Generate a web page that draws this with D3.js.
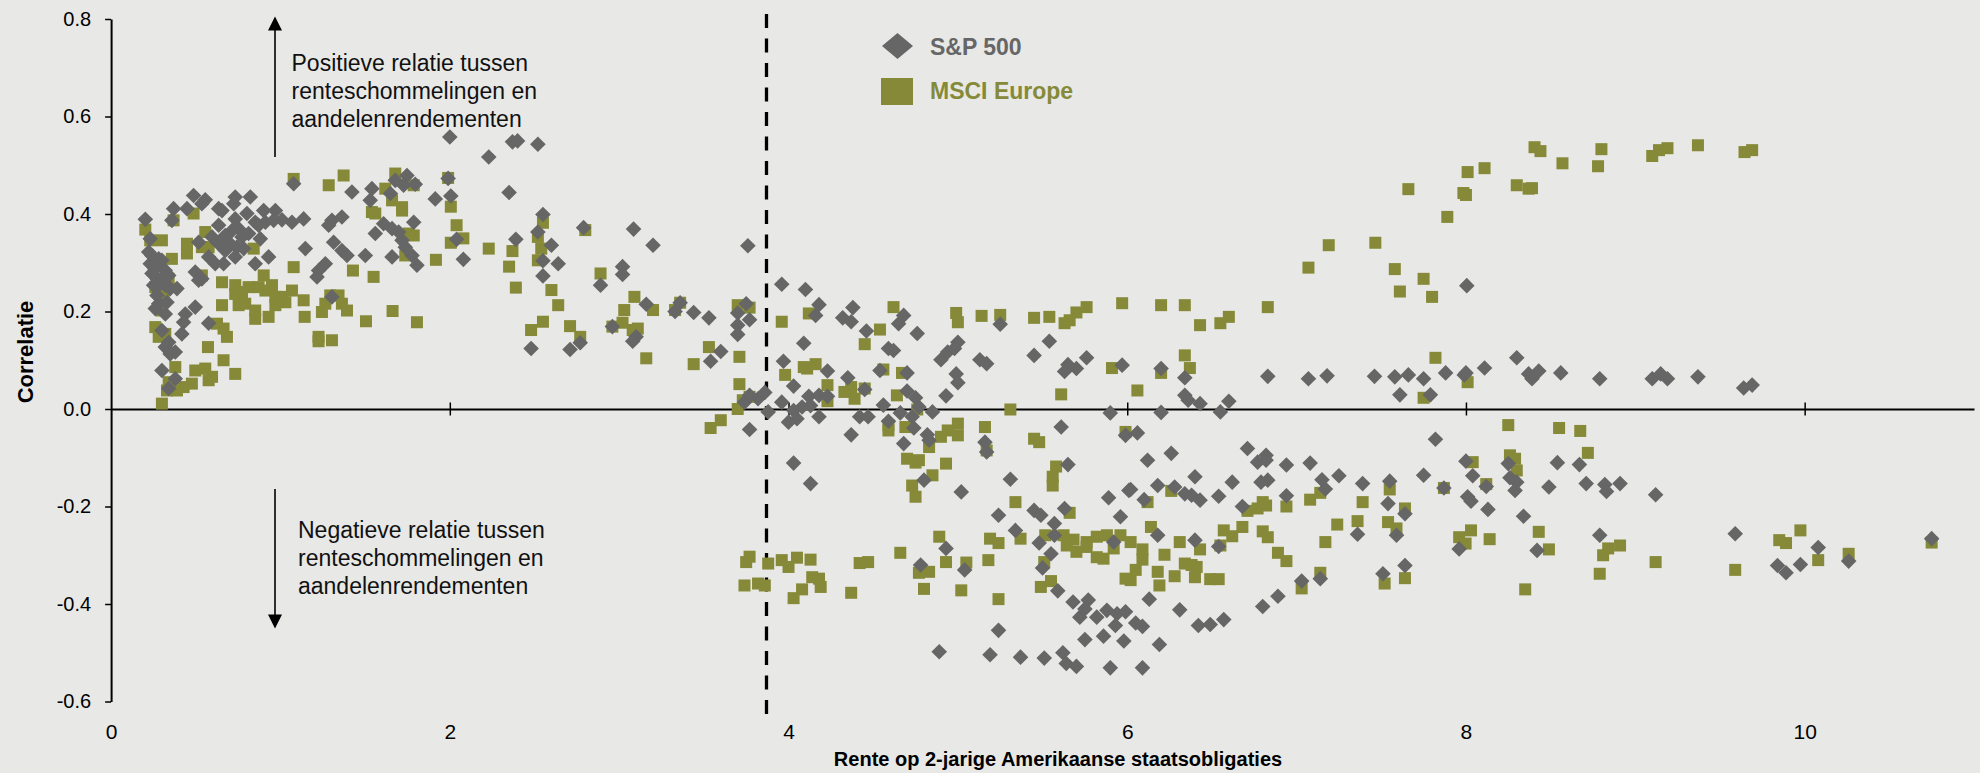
<!DOCTYPE html>
<html>
<head>
<meta charset="utf-8">
<script src="https://cdn.jsdelivr.net/npm/d3@7"></script>
<style>
  html, body { margin: 0; padding: 0; background: #e8e8e6; }
  svg { display: block; font-family: "Liberation Sans", Arial, sans-serif; }
</style>
</head>
<body>
<svg id="chart" width="1980" height="773"></svg>
<script>
// Correlation between S&P 500 / MSCI Europe returns and rate changes,
// plotted against the US 2-year Treasury yield.
const seriesNames = ["S&P 500", "MSCI Europe"];
const xTicks = [0, 2, 4, 6, 8, 10];
const yTicks = [-0.6, -0.4, -0.2, 0.0, 0.2, 0.4, 0.6, 0.8];
const regimeBreak = 3.87;

// [yield, correlation]
const sp500 = [
  [1.078,0.462],[1.747,0.479],[1.678,0.469],[1.727,0.459],[1.796,0.461],[1.649,0.442],[1.54,0.452],[1.53,0.428],[1.422,0.445],[1.914,0.431],
  [0.487,0.438],[0.556,0.429],[0.536,0.421],[0.733,0.435],[0.822,0.435],[0.724,0.421],[0.448,0.411],[0.369,0.411],[0.635,0.411],[0.655,0.407],
  [0.802,0.401],[0.901,0.407],[0.97,0.407],[0.359,0.387],[0.202,0.389],[0.733,0.39],[0.851,0.383],[0.911,0.383],[0.96,0.387],[1.009,0.388],
  [1.068,0.383],[1.137,0.39],[0.635,0.377],[0.871,0.377],[1.304,0.387],[1.363,0.394],[1.285,0.377],[0.714,0.366],[0.753,0.37],[0.596,0.353],
  [0.674,0.356],[0.773,0.353],[0.812,0.36],[0.231,0.349],[0.517,0.342],[0.881,0.349],[0.635,0.339],[0.704,0.339],[0.743,0.332],[0.783,0.329],
  [0.674,0.325],[0.733,0.312],[0.576,0.312],[0.615,0.298],[0.664,0.298],[0.93,0.312],[0.851,0.298],[1.147,0.329],[1.314,0.342],[1.363,0.325],
  [1.393,0.315],[1.501,0.315],[1.56,0.36],[1.609,0.38],[1.659,0.37],[1.698,0.363],[1.718,0.346],[1.737,0.332],[1.777,0.315],[1.806,0.295],
  [1.659,0.312],[1.787,0.383],[1.265,0.298],[1.225,0.284],[1.216,0.271],[0.497,0.281],[0.536,0.267],[0.517,0.264],[1.304,0.23],
  [0.222,0.322],[0.241,0.315],[0.281,0.308],[0.231,0.298],[0.261,0.291],[0.3,0.305],[0.32,0.284],[0.241,0.278],[0.271,0.267],[0.31,0.271],
  [0.34,0.274],[0.251,0.254],[0.29,0.257],[0.32,0.254],[0.349,0.247],[0.389,0.247],[0.271,0.233],[0.281,0.216],[0.33,0.219],[0.261,0.206],
  [0.32,0.195],[0.497,0.209],[0.438,0.195],[0.428,0.178],[0.418,0.154],[0.576,0.176],[0.3,0.161],[0.34,0.137],[0.32,0.127],[0.379,0.117],
  [0.349,0.113],[0.3,0.079],[0.379,0.062],[0.34,0.042],
  [2.0,0.558],[2.23,0.517],[2.37,0.548],[2.40,0.55],[2.52,0.543],[1.99,0.473],[2.006,0.437],[2.35,0.444],[2.55,0.399],[2.52,0.363],
  [2.04,0.348],[2.08,0.307],[2.39,0.348],[2.60,0.336],[2.55,0.304],[2.64,0.298],[2.55,0.273],[2.79,0.372],[3.085,0.369],[3.20,0.336],
  [3.02,0.292],[3.02,0.276],[2.89,0.254],[3.16,0.215],[2.96,0.169],[3.10,0.148],[3.08,0.139],[3.36,0.218],[3.33,0.2],[3.44,0.198],
  [2.48,0.124],[2.71,0.122],[2.77,0.136],[3.76,0.335],
  [3.96,0.256],[4.10,0.245],[3.53,0.187],[3.75,0.216],[3.70,0.197],[3.77,0.183],[3.70,0.172],[3.70,0.153],[3.60,0.118],[3.54,0.098],
  [4.18,0.214],[4.16,0.192],[4.38,0.208],[4.32,0.187],[4.37,0.179],[4.46,0.16],[4.68,0.192],[4.65,0.175],[4.76,0.155],[4.09,0.135],
  [4.59,0.124],[4.62,0.12],[3.97,0.098],[4.54,0.079],[4.70,0.074],[5.0,0.137],[4.94,0.117],[4.90,0.101],[4.98,0.124],[5.13,0.101],
  [5.17,0.093],[5.25,0.174],[5.45,0.11],[5.54,0.139],[5.65,0.091],[5.63,0.077],[5.70,0.083],[5.76,0.105],[5.97,0.09],[4.99,0.072],
  [5.0,0.054],[4.93,0.027],[4.23,0.078],[4.35,0.064],[4.03,0.047],[4.45,0.04],[4.70,0.037],[4.75,0.023],[4.77,0.004],[3.86,0.034],
  [3.82,0.021],[3.74,0.014],[3.77,0.028],[3.96,0.014],[3.88,-0.006],[4.12,0.026],[4.18,0.028],[4.23,0.026],[4.08,0.004],[4.03,-0.003],
  [4.05,-0.02],[4.0,-0.027],[4.13,0.007],[4.18,-0.016],[3.77,-0.042],[4.56,0.008],[4.66,-0.008],[4.59,-0.025],[4.73,-0.016],[4.74,-0.039],
  [4.85,-0.006],[4.42,-0.016],[4.47,-0.016],[4.37,-0.053],[4.82,-0.053],[4.83,-0.064],[4.68,-0.071],[4.03,-0.111],[4.13,-0.153],[4.80,-0.146],
  [5.02,-0.17],[5.16,-0.068],[5.17,-0.088],[5.61,-0.037],[5.90,-0.008],[5.99,-0.054],[5.65,-0.114],[5.31,-0.144],[5.89,-0.182],[6.01,-0.167],
  [5.24,-0.218],[5.45,-0.208],[5.49,-0.218],[5.63,-0.204],[5.96,-0.221],[5.34,-0.249],[5.57,-0.235],[5.57,-0.259],[5.48,-0.275],[5.55,-0.297],
  [5.50,-0.326],[5.92,-0.273],[4.93,-0.286],[4.78,-0.32],[5.04,-0.33],[5.59,-0.373],[5.68,-0.396],[5.77,-0.392],[5.75,-0.41],[5.72,-0.427],
  [5.82,-0.427],[5.88,-0.413],[5.94,-0.42],[5.99,-0.416],[5.93,-0.444],[5.24,-0.454],[5.75,-0.473],[5.86,-0.466],[5.98,-0.476],[4.89,-0.498],
  [5.19,-0.504],[5.37,-0.509],[5.51,-0.511],[5.62,-0.5],[5.64,-0.522],[5.70,-0.528],[5.90,-0.531],
  [6.20,0.083],[6.34,0.064],[6.34,0.028],[6.36,0.018],[6.43,0.011],[6.20,-0.007],[6.55,-0.006],[6.60,0.016],[6.83,0.067],[7.07,0.062],
  [7.18,0.068],[7.46,0.067],[7.58,0.066],[7.66,0.07],[7.75,0.062],[7.61,0.029],[7.79,0.029],[7.88,0.074],[6.06,-0.049],[7.82,-0.062],
  [6.12,-0.105],[6.26,-0.091],[6.71,-0.081],[6.77,-0.109],[6.82,-0.095],[6.82,-0.105],[6.94,-0.115],[7.08,-0.111],[6.02,-0.165],[6.18,-0.157],
  [6.28,-0.16],[6.34,-0.174],[6.38,-0.177],[6.43,-0.187],[6.40,-0.139],[6.54,-0.179],[6.62,-0.15],[6.79,-0.15],[6.83,-0.146],[7.15,-0.145],
  [7.17,-0.164],[7.25,-0.137],[7.39,-0.153],[7.55,-0.148],[7.54,-0.194],[7.64,-0.215],[7.75,-0.136],[7.87,-0.162],[6.68,-0.2],[6.94,-0.178],
  [6.10,-0.186],[6.18,-0.259],[6.40,-0.269],[6.54,-0.282],[7.36,-0.257],[7.59,-0.259],[7.64,-0.321],[7.51,-0.338],[7.03,-0.353],[7.14,-0.348],
  [6.13,-0.39],[6.31,-0.412],[6.89,-0.384],[6.80,-0.405],[6.05,-0.439],[6.09,-0.446],[6.42,-0.444],[6.49,-0.442],[6.57,-0.432],[6.19,-0.483],
  [6.09,-0.531],
  [7.99,0.07],[8.0,0.074],[8.11,0.084],[8.30,0.105],[8.37,0.072],[8.43,0.078],[8.39,0.062],[8.56,0.074],[8.79,0.062],[9.10,0.062],
  [9.15,0.072],[9.19,0.062],[9.37,0.066],[9.64,0.043],[9.69,0.049],[8.0,-0.107],[8.04,-0.137],[8.25,-0.112],[8.26,-0.141],[8.30,-0.15],
  [8.29,-0.167],[8.12,-0.159],[8.54,-0.11],[8.67,-0.114],[8.49,-0.16],[8.71,-0.153],[8.82,-0.155],[8.83,-0.169],[8.91,-0.153],[9.12,-0.176],
  [8.01,-0.18],[8.03,-0.189],[8.13,-0.206],[8.34,-0.22],[7.96,-0.287],[8.42,-0.29],[8.79,-0.259],[9.59,-0.256],[9.84,-0.321],[9.89,-0.336],
  [9.975,-0.319],[10.08,-0.284],[10.26,-0.312],[10.75,-0.266],[8.005,0.253]
];

const msciEurope = [
  [1.078,0.472],[1.373,0.479],[1.285,0.459],[1.678,0.483],[1.787,0.459],[1.619,0.452],[1.659,0.428],[1.718,0.414],[1.718,0.407],[1.54,0.404],
  [1.56,0.401],[1.757,0.36],[1.787,0.356],[1.737,0.315],[1.918,0.306],[1.428,0.284],[1.55,0.271],[1.662,0.201],[1.806,0.178],[1.505,0.18],
  [1.304,0.141],[1.225,0.148],[1.225,0.139],[1.245,0.199],[1.265,0.216],[1.294,0.233],[1.343,0.233],[1.363,0.216],[1.393,0.202],[1.143,0.189],
  [1.137,0.223],[1.078,0.291],[1.068,0.243],[1.009,0.23],[1.029,0.219],[0.97,0.23],[0.97,0.213],[0.95,0.254],[0.911,0.243],[0.871,0.25],
  [0.812,0.25],[0.773,0.24],[0.733,0.254],[0.733,0.236],[0.753,0.213],[0.792,0.216],[0.851,0.202],[0.851,0.185],[0.93,0.189],[0.901,0.274],
  [0.842,0.329],[0.655,0.26],[0.655,0.213],[0.625,0.175],[0.664,0.165],[0.684,0.148],[0.572,0.127],[0.664,0.1],[0.733,0.072],[0.497,0.079],
  [0.556,0.083],[0.596,0.066],[0.576,0.059],[0.477,0.052],[0.428,0.045],[0.389,0.038],[0.34,0.055],[0.33,0.038],[0.379,0.086],[0.3,0.011],
  [0.202,0.368],[0.231,0.346],[0.3,0.346],[0.251,0.284],[0.359,0.308],[0.448,0.339],[0.448,0.319],[0.487,0.401],[0.369,0.387],[0.556,0.363],
  [0.536,0.332],[0.576,0.332],[0.261,0.168],[0.281,0.148],[0.32,0.154],[0.31,0.236],[0.34,0.267],[0.3,0.202],[0.261,0.25],[0.536,0.274],
  [1.99,0.474],[2.006,0.415],[2.04,0.377],[2.08,0.35],[2.006,0.341],[2.23,0.329],[2.37,0.324],[2.35,0.292],[2.39,0.249],[2.55,0.382],
  [2.52,0.353],[2.54,0.329],[2.52,0.305],[2.60,0.244],[2.64,0.213],[2.80,0.367],[2.89,0.278],[3.09,0.23],[3.03,0.203],[3.02,0.177],
  [3.11,0.165],[3.08,0.162],[2.96,0.169],[3.20,0.203],[3.33,0.203],[3.36,0.218],[2.55,0.179],[2.48,0.162],[2.71,0.17],[2.77,0.148],
  [3.16,0.104],[3.44,0.092],
  [3.70,0.213],[3.77,0.208],[3.53,0.127],[3.71,0.107],[3.71,0.051],[3.77,0.025],[3.73,0.018],[3.70,0.0],[3.60,-0.023],[3.54,-0.039],
  [3.96,0.179],[4.12,0.196],[3.98,0.07],[4.09,0.086],[4.11,0.083],[4.16,0.092],[4.23,0.049],[4.23,0.016],[4.33,0.035],[4.37,0.045],
  [4.39,0.021],[4.45,0.133],[4.45,0.042],[4.54,0.163],[4.62,0.209],[4.56,0.081],[4.67,0.074],[4.64,0.028],[4.76,-0.001],[4.59,-0.033],
  [4.59,-0.044],[4.69,-0.037],[4.99,0.197],[5.0,0.178],[5.14,0.191],[5.25,0.193],[5.45,0.187],[5.54,0.189],[5.63,0.176],[5.66,0.182],
  [5.70,0.198],[5.76,0.209],[5.97,0.217],[5.91,0.084],[5.61,0.03],[5.31,-0.001],[4.90,-0.057],[4.94,-0.044],[5.0,-0.03],[5.0,-0.054],
  [4.83,-0.078],[4.70,-0.102],[4.77,-0.105],[4.75,-0.11],[4.93,-0.112],[4.85,-0.136],[4.73,-0.157],[4.75,-0.18],[5.16,-0.037],[5.17,-0.085],
  [5.45,-0.061],[5.48,-0.068],[5.58,-0.118],[5.56,-0.139],[5.56,-0.157],[5.66,-0.213],[5.99,-0.047],[5.34,-0.191],[5.19,-0.266],[5.24,-0.275],
  [5.37,-0.266],[5.516,-0.259],[5.624,-0.259],[5.683,-0.268],[5.643,-0.28],[5.70,-0.293],[5.76,-0.273],[5.82,-0.262],[5.88,-0.259],[5.96,-0.259],
  [5.92,-0.286],[5.82,-0.304],[5.86,-0.307],[5.76,-0.283],[5.99,-0.348],[5.51,-0.314],[5.49,-0.365],[5.55,-0.353],[5.24,-0.39],[4.89,-0.262],
  [4.66,-0.295],[4.93,-0.314],[5.05,-0.315],[5.18,-0.31],[4.77,-0.336],[4.83,-0.334],[4.80,-0.369],[5.02,-0.372],[4.42,-0.316],[4.47,-0.314],
  [4.37,-0.377],[3.75,-0.314],[3.77,-0.303],[3.88,-0.317],[3.96,-0.31],[4.0,-0.324],[4.05,-0.305],[4.13,-0.309],[3.74,-0.362],[3.82,-0.358],
  [3.86,-0.362],[4.14,-0.345],[4.18,-0.348],[4.19,-0.365],[4.08,-0.37],[4.03,-0.388],
  [7.07,0.29],[7.58,0.287],[7.75,0.267],[7.61,0.241],[7.80,0.23],[6.20,0.213],[6.34,0.213],[6.43,0.172],[6.55,0.176],[6.60,0.189],
  [6.83,0.209],[6.34,0.11],[6.37,0.084],[6.20,0.074],[6.06,0.038],[7.82,0.105],[7.75,0.023],[7.87,-0.162],[7.55,-0.165],[6.26,-0.168],
  [6.12,-0.191],[6.80,-0.191],[6.82,-0.198],[6.77,-0.204],[6.71,-0.209],[6.94,-0.2],[7.08,-0.186],[7.14,-0.172],[7.39,-0.191],[7.64,-0.204],
  [6.14,-0.242],[6.31,-0.273],[6.57,-0.249],[6.62,-0.261],[6.68,-0.242],[6.80,-0.251],[6.83,-0.263],[6.55,-0.28],[6.02,-0.273],[6.09,-0.288],
  [6.09,-0.309],[6.22,-0.299],[6.43,-0.288],[7.24,-0.237],[7.36,-0.23],[7.54,-0.232],[7.59,-0.245],[7.17,-0.273],[6.89,-0.295],[6.94,-0.312],
  [6.05,-0.33],[6.02,-0.351],[6.18,-0.334],[6.19,-0.362],[6.28,-0.343],[6.34,-0.317],[6.38,-0.32],[6.41,-0.324],[6.40,-0.345],[6.49,-0.349],
  [6.54,-0.349],[7.14,-0.336],[7.03,-0.368],[7.52,-0.358],[7.64,-0.347],
  [7.19,0.336],[7.465,0.341],[7.66,0.451],[7.89,0.394],[7.985,0.443],[8.0,0.439],[8.01,0.486],[8.11,0.494],[8.30,0.459],[8.37,0.452],
  [8.39,0.453],[8.405,0.537],[8.44,0.529],[8.57,0.504],[8.78,0.498],[8.80,0.533],[9.10,0.519],[9.14,0.531],[9.19,0.535],[9.37,0.541],
  [9.645,0.527],[9.69,0.531],
  [8.01,0.055],[8.25,-0.033],[8.55,-0.039],[8.675,-0.045],[8.72,-0.09],[8.26,-0.095],[8.29,-0.102],[8.30,-0.126],[8.04,-0.109],[8.12,-0.154],
  [8.03,-0.249],[7.96,-0.263],[7.998,-0.276],[8.14,-0.267],[8.43,-0.252],[8.49,-0.288],[8.35,-0.37],[8.84,-0.286],[8.91,-0.28],[8.81,-0.3],
  [8.79,-0.338],[9.12,-0.314],[9.59,-0.33],[9.85,-0.269],[9.89,-0.275],[9.975,-0.249],[10.08,-0.31],[10.26,-0.297],[10.75,-0.274]
];

const positiveNote = ["Positieve relatie tussen", "renteschommelingen en", "aandelenrendementen"];
const negativeNote = ["Negatieve relatie tussen", "renteschommelingen en", "aandelenrendementen"];
const xTitle = "Rente op 2-jarige Amerikaanse staatsobligaties";
const yTitle = "Correlatie";

const GREY = "#666666";
const OLIVE = "#868a38";

const svg = d3.select("#chart");

const x = d3.scaleLinear().domain([0, 11]).range([111.1, 1974]);
const y = d3.scaleLinear().domain([-0.6, 0.8]).range([701.5, 19]);

// y axis on the left edge
const yAxis = svg.append("g")
  .attr("transform", `translate(${x(0)},0)`)
  .call(d3.axisLeft(y).tickValues(yTicks).tickSizeInner(6).tickSizeOuter(0)
    .tickPadding(14).tickFormat(d => d.toFixed(1)));
yAxis.select(".domain").attr("stroke", "#000").attr("stroke-width", 2);
yAxis.selectAll(".tick line").attr("stroke", "#000").attr("stroke-width", 1.5);
yAxis.selectAll(".tick text").attr("font-size", 20).attr("fill", "#000")
  .attr("font-family", "Liberation Sans, Arial, sans-serif");

// x axis crosses at zero, labels sit at the bottom of the plot
const xAxis = svg.append("g")
  .attr("transform", `translate(0,${y(0)})`)
  .call(d3.axisBottom(x).tickValues(xTicks).tickSizeInner(6.5).tickSizeOuter(0).tickFormat(d3.format("d")));
xAxis.select(".domain").attr("stroke", "#000").attr("stroke-width", 2.2);
xAxis.selectAll(".tick line").attr("stroke", "#000").attr("stroke-width", 1.5)
  .attr("y1", -6.5).attr("y2", 6.5)
  .filter(d => d === 0).remove();
xAxis.selectAll(".tick text").attr("font-size", 21).attr("fill", "#000")
  .attr("font-family", "Liberation Sans, Arial, sans-serif")
  .attr("dy", null)
  .attr("y", y(-0.6) - y(0) + 37);

// regime break
svg.append("line")
  .attr("x1", x(regimeBreak)).attr("x2", x(regimeBreak))
  .attr("y1", y(0.8) - 5).attr("y2", y(-0.6) + 15)
  .attr("stroke", "#000").attr("stroke-width", 3.3)
  .attr("stroke-dasharray", "14,10.5");

// MSCI Europe squares (drawn underneath)
const sq = 12;
svg.append("g").selectAll("rect")
  .data(msciEurope)
  .join("rect")
  .attr("x", d => x(d[0]) - sq / 2)
  .attr("y", d => y(d[1]) - sq / 2)
  .attr("width", sq).attr("height", sq)
  .attr("fill", OLIVE);

// S&P 500 diamonds
const r = 7.8;
const diamond = `M0,${-r}L${r},0L0,${r}L${-r},0Z`;
svg.append("g").selectAll("path")
  .data(sp500)
  .join("path")
  .attr("transform", d => `translate(${x(d[0])},${y(d[1])})`)
  .attr("d", diamond)
  .attr("fill", GREY);

// legend
const legend = svg.append("g");
legend.append("path")
  .attr("d", "M0,-13L15.5,0L0,13L-15.5,0Z")
  .attr("transform", "translate(897.5,46)")
  .attr("fill", GREY);
legend.append("rect")
  .attr("x", 881).attr("y", 78).attr("width", 32).attr("height", 27)
  .attr("fill", OLIVE);
legend.append("text").attr("x", 930).attr("y", 55)
  .attr("font-size", 23).attr("font-weight", "bold").attr("fill", GREY)
  .text(seriesNames[0]);
legend.append("text").attr("x", 930).attr("y", 99)
  .attr("font-size", 23).attr("font-weight", "bold").attr("fill", OLIVE)
  .text(seriesNames[1]);

// annotations with arrows
const defs = svg.append("defs");
defs.append("marker")
  .attr("id", "arrowhead")
  .attr("viewBox", "0 0 10 10")
  .attr("refX", 9).attr("refY", 5)
  .attr("markerWidth", 10).attr("markerHeight", 10)
  .attr("markerUnits", "userSpaceOnUse")
  .attr("orient", "auto")
  .append("path").attr("d", "M0,0L10,5L0,10Z").attr("fill", "#000");

defs.select("#arrowhead").attr("markerWidth", 15).attr("markerHeight", 14);

svg.append("line")
  .attr("x1", 275).attr("y1", 157).attr("x2", 275).attr("y2", 18)
  .attr("stroke", "#000").attr("stroke-width", 1.6)
  .attr("marker-end", "url(#arrowhead)");
svg.append("line")
  .attr("x1", 275).attr("y1", 489).attr("x2", 275).attr("y2", 627)
  .attr("stroke", "#000").attr("stroke-width", 1.6)
  .attr("marker-end", "url(#arrowhead)");

const topNote = svg.append("text").attr("font-size", 23).attr("fill", "#111");
positiveNote.forEach((t, i) => topNote.append("tspan").attr("x", 291.5).attr("y", 71 + i * 28.2).text(t));
const bottomNote = svg.append("text").attr("font-size", 23).attr("fill", "#111");
negativeNote.forEach((t, i) => bottomNote.append("tspan").attr("x", 298).attr("y", 538 + i * 28).text(t));

// axis titles
svg.append("text")
  .attr("x", 1058).attr("y", 766)
  .attr("text-anchor", "middle")
  .attr("font-size", 20).attr("font-weight", "bold").attr("fill", "#000")
  .text(xTitle);
svg.append("text")
  .attr("transform", "translate(33,352) rotate(-90)")
  .attr("text-anchor", "middle")
  .attr("font-size", 22).attr("font-weight", "bold").attr("fill", "#000")
  .text(yTitle);
</script>
</body>
</html>
